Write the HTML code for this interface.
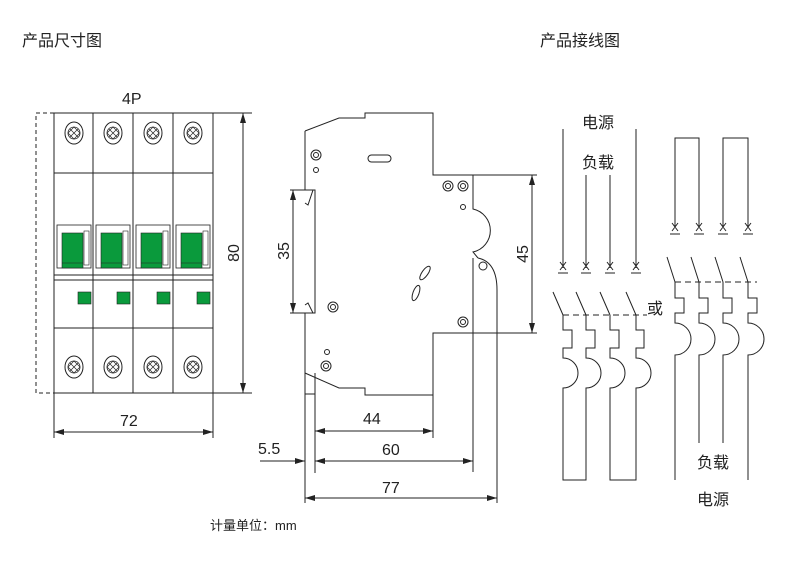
<!DOCTYPE html>
<html><head><meta charset="utf-8"><style>
html,body{margin:0;padding:0;background:#fff;width:800px;height:574px;overflow:hidden}
svg{display:block}
text{font-family:"Liberation Sans","Noto Sans CJK SC",sans-serif;fill:#222}
</style></head><body>
<svg width="800" height="574" viewBox="0 0 800 574" xmlns="http://www.w3.org/2000/svg">
<defs>
<marker id="a" viewBox="0 0 10 6" refX="10" refY="3" markerWidth="10" markerHeight="6" orient="auto-start-reverse" markerUnits="userSpaceOnUse"><path d="M0,0L10,3L0,6z" fill="#222"/></marker>
<g id="scr"><ellipse cx="0" cy="0" rx="9" ry="11" fill="none" stroke="#222" stroke-width="1"/><circle r="6" fill="none" stroke="#222" stroke-width="0.8"/><path d="M-4,-4L4,4M-4,4L4,-4M-6,0L0,-6L6,0L0,6z" stroke="#222" stroke-width="0.7" fill="none"/></g>
<g id="tog"><rect x="3" y="225" width="34" height="43" fill="#fff" stroke="#222" stroke-width="0.8"/><rect x="8" y="233" width="21" height="35" fill="#0a9a3c" stroke="#222" stroke-width="0.6"/><line x1="8" y1="263" x2="29" y2="263" stroke="#222" stroke-width="0.6"/><rect x="30" y="231" width="5" height="34" fill="none" stroke="#222" stroke-width="0.6"/></g>
</defs>
<text x="22" y="46" font-size="16">产品尺寸图</text>
<text x="540" y="46" font-size="16">产品接线图</text>
<text x="210" y="530" font-size="13">计量单位：mm</text>
<g stroke="#222" stroke-width="1" fill="none">
<rect x="54" y="113" width="159" height="280"/>
<path d="M93,113V393M133,113V393M173,113V393M54,173H213M54,275H213M54,280H213M54,328H213"/>
<path d="M54,113H36V393H54" stroke-dasharray="4,3"/>
<path d="M213,113H252M213,393H252M54,393V438M213,393V438"/>
<line x1="243" y1="113" x2="243" y2="393" marker-start="url(#a)" marker-end="url(#a)"/>
<line x1="54" y1="432" x2="213" y2="432" marker-start="url(#a)" marker-end="url(#a)"/>
</g>
<use href="#tog" x="54"/><use href="#tog" x="93"/><use href="#tog" x="133"/><use href="#tog" x="173"/>
<g fill="#0a9a3c" stroke="#222" stroke-width="0.6"><rect x="78" y="292" width="13" height="12"/><rect x="117" y="292" width="13" height="12"/><rect x="157" y="292" width="13" height="12"/><rect x="197" y="292" width="13" height="12"/></g>
<use href="#scr" x="74" y="133"/><use href="#scr" x="113" y="133"/><use href="#scr" x="153" y="133"/><use href="#scr" x="193" y="133"/>
<use href="#scr" x="74" y="367"/><use href="#scr" x="113" y="367"/><use href="#scr" x="153" y="367"/><use href="#scr" x="193" y="367"/>
<text x="122" y="104" font-size="16">4P</text>
<text x="120" y="426" font-size="16">72</text>
<text transform="translate(239,253) rotate(-90)" font-size="16" text-anchor="middle">80</text>
<g stroke="#222" stroke-width="1" fill="none">
<path d="M305,131L339,118H365V113H433V175H473V209A22,22 0 0 1 473,252L478,258M305,131V190H315V313H305V373L339,388H365V395H433V333H473"/>
<path d="M305,190L313,190L308,205L305,203M305,313L313,313L308,303L305,305"/>
<path d="M478,258Q497,262 497,290V503M473,258V472"/>
<path d="M305,373V503M315,373V473M433,395V438M305,394H315"/>
<path d="M290,190H315M290,313H315M473,175H537M473,333H537"/>
<rect x="368" y="155" width="23" height="7" rx="3.5"/>
<circle cx="316" cy="155" r="5"/><circle cx="316" cy="155" r="2.5"/><circle cx="316" cy="170" r="2.5"/>
<circle cx="448" cy="186" r="5"/><circle cx="448" cy="186" r="2.5"/><circle cx="463" cy="186" r="5"/><circle cx="463" cy="186" r="2.5"/><circle cx="463" cy="207" r="2.5"/>
<circle cx="333" cy="307" r="5"/><circle cx="333" cy="307" r="2.5"/>
<circle cx="326" cy="366" r="5"/><circle cx="326" cy="366" r="2.5"/><circle cx="327" cy="352" r="2.5"/>
<circle cx="463" cy="322" r="5"/><circle cx="463" cy="322" r="2.5"/>
<circle cx="483" cy="266" r="4"/>
<ellipse cx="425" cy="273" rx="3" ry="8" transform="rotate(35 425 273)"/>
<ellipse cx="416" cy="293" rx="3" ry="8" transform="rotate(20 416 293)"/>
</g>
<g stroke="#222" stroke-width="1">
<line x1="293" y1="190" x2="293" y2="313" marker-start="url(#a)" marker-end="url(#a)"/>
<line x1="532" y1="175" x2="532" y2="333" marker-start="url(#a)" marker-end="url(#a)"/>
<line x1="315" y1="431" x2="433" y2="431" marker-start="url(#a)" marker-end="url(#a)"/>
<line x1="315" y1="461" x2="473" y2="461" marker-start="url(#a)" marker-end="url(#a)"/>
<line x1="260" y1="461" x2="305" y2="461" marker-end="url(#a)"/>
<line x1="305" y1="498" x2="497" y2="498" marker-start="url(#a)" marker-end="url(#a)"/>
</g>
<text transform="translate(289,251) rotate(-90)" font-size="16" text-anchor="middle">35</text>
<text transform="translate(528,254) rotate(-90)" font-size="16" text-anchor="middle">45</text>
<text x="363" y="424" font-size="16">44</text>
<text x="382" y="455" font-size="16">60</text>
<text x="258" y="454" font-size="16">5.5</text>
<text x="382" y="493" font-size="16">77</text>
<g stroke="#222" stroke-width="1" fill="none">
<path d="M563,129V268M636,129V268M586,175V268M610,175V268"/>
<path d="M560,262L566,270M566,262L560,270M558,273H568 M583,262L589,270M589,262L583,270M581,273H591 M607,262L613,270M613,262L607,270M605,273H615 M633,262L639,270M639,262L633,270M631,273H641"/>
<path d="M563,315H647" stroke-dasharray="6,4"/>
<path d="M553,292L563,315M576,292L586,315M600,292L610,315M626,292L636,315"/>
<path d="M563,315V330H572V348H563V358A15,15 0 0 1 563,388V480H586V388A15,15 0 0 0 586,358V348H595V330H586V315"/>
<path d="M610,315V330H619V348H610V358A15,15 0 0 1 610,388V480H636V388A15,15 0 0 0 636,358V348H644V330H636V315"/>
<path d="M675,228V138H699V228M723,228V138H748V228"/>
<path d="M672,223L678,231M678,223L672,231M670,234H680 M696,223L702,231M702,223L696,231M694,234H704 M720,223L726,231M726,223L720,231M718,234H728 M745,223L751,231M751,223L745,231M743,234H753"/>
<path d="M675,282H757" stroke-dasharray="6,4"/>
<path d="M667,257L675,282M691,257L699,282M715,257L723,282M740,257L748,282"/>
<path d="M675,282V298H684V313H675V323A16,16 0 0 1 675,355V480"/>
<path d="M699,282V298H708V313H699V323A16,16 0 0 1 699,355V443"/>
<path d="M723,282V298H732V313H723V323A16,16 0 0 1 723,355V443"/>
<path d="M748,282V298H757V313H748V323A16,16 0 0 1 748,355V480"/>
</g>
<text x="598" y="128" font-size="16" text-anchor="middle">电源</text>
<text x="598" y="168" font-size="16" text-anchor="middle">负载</text>
<text x="655" y="314" font-size="16" text-anchor="middle">或</text>
<text x="713" y="468" font-size="16" text-anchor="middle">负载</text>
<text x="713" y="505" font-size="16" text-anchor="middle">电源</text>
</svg>
</body></html>
